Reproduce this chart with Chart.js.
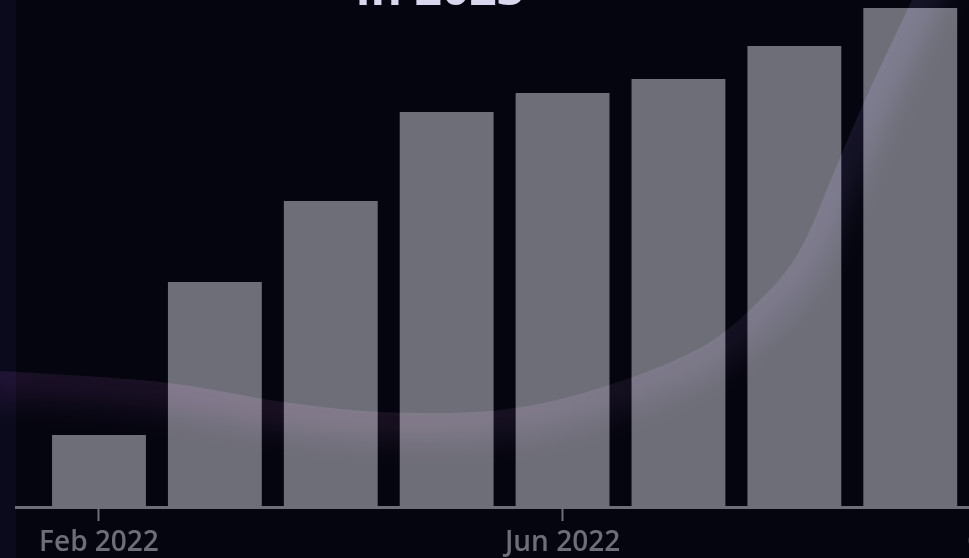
<!DOCTYPE html>
<html>
<head>
<meta charset="utf-8">
<script src="https://cdn.jsdelivr.net/npm/chart.js@4"></script>
<style>
  html, body { margin: 0; padding: 0; background: #05050f; overflow: hidden; width: 969px; height: 558px; }
  #wrap { position: absolute; left: 0; top: 0; width: 1200px; height: 558px; }
  canvas { display: block; }
</style>
</head>
<body>
<div id="wrap"><canvas id="c" width="1200" height="558"></canvas></div>
<script>
// ---- data ----
const months = ['Feb 2022', 'Mar 2022', 'Apr 2022', 'May 2022', 'Jun 2022', 'Jul 2022', 'Aug 2022', 'Sep 2022'];
const values = [14.4, 45.0, 61.2, 79.0, 82.8, 85.6, 92.2, 99.8];
const tickLabels = ['Feb 2022', 'Jun 2022', 'Oct 2022'];
const titleText = 'in 2023';

// ---- helpers ----
const MONTHS = ['Jan','Feb','Mar','Apr','May','Jun','Jul','Aug','Sep','Oct','Nov','Dec'];
function monthIndex(label) {
  const [m, y] = label.split(' ');
  return (parseInt(y, 10) * 12 + MONTHS.indexOf(m));
}
const base = monthIndex(months[0]);
const points = months.map((m, i) => ({ x: monthIndex(m) - base, y: values[i] }));
const tickVals = tickLabels.map(l => monthIndex(l) - base);
const labelByVal = {};
tickLabels.forEach((l, i) => { labelByVal[tickVals[i]] = l; });

const GRAY = '#6e6e78';
const FONT = "'Open Sans', 'Noto Sans', sans-serif";

const bgPlugin = {
  id: 'bg',
  beforeDraw(chart) {
    const ctx = chart.ctx;
    ctx.save();
    ctx.fillStyle = '#05050f';
    ctx.fillRect(0, 0, chart.width, chart.height);
    ctx.fillStyle = '#0b0a1c';
    ctx.fillRect(0, 0, 16, chart.height);
    ctx.restore();
  }
};

// decorative glow curve (not data)
const curvePts = [[-20,370],[0,371],[160,382],[283,402],[383,412],[500,410],[600,388],[700,348],[760,300],[800,250],[835,170],[865,100],[912,0],[935,-50]];
function curvePath(ctx) {
  const p = curvePts;
  ctx.moveTo(p[0][0], p[0][1]);
  for (let i = 0; i < p.length - 1; i++) {
    const p0 = p[Math.max(i - 1, 0)], p1 = p[i], p2 = p[i + 1], p3 = p[Math.min(i + 2, p.length - 1)];
    const c1x = p1[0] + (p2[0] - p0[0]) / 6, c1y = p1[1] + (p2[1] - p0[1]) / 6;
    const c2x = p2[0] - (p3[0] - p1[0]) / 6, c2y = p2[1] - (p3[1] - p1[1]) / 6;
    ctx.bezierCurveTo(c1x, c1y, c2x, c2y, p2[0], p2[1]);
  }
}
const glowPlugin = {
  id: 'glow',
  afterDatasetsDraw(chart) {
    const ctx = chart.ctx;
    ctx.save();
    ctx.beginPath();
    curvePath(ctx);
    ctx.lineTo(1300, -50);
    ctx.lineTo(1300, 700);
    ctx.lineTo(-20, 700);
    ctx.closePath();
    ctx.clip();
    ctx.globalCompositeOperation = 'lighter';
    const g = ctx.createLinearGradient(0, 0, 950, 0);
    g.addColorStop(0, 'rgba(150,70,170,0.14)');
    g.addColorStop(0.45, 'rgba(180,110,160,0.11)');
    g.addColorStop(0.75, 'rgba(160,120,200,0.09)');
    g.addColorStop(1, 'rgba(140,140,220,0.12)');
    ctx.filter = 'blur(14px)';
    ctx.lineWidth = 54;
    ctx.strokeStyle = g;
    ctx.beginPath();
    curvePath(ctx);
    ctx.stroke();
    ctx.restore();
  }
};

const titlePlugin = {
  id: 'ttl',
  afterDraw(chart) {
    const ctx = chart.ctx;
    ctx.save();
    ctx.font = "700 48px " + FONT;
    ctx.fillStyle = '#d9d7ee';
    ctx.textAlign = 'center';
    ctx.textBaseline = 'alphabetic';
    ctx.fillText(titleText, 440, 5);
    ctx.restore();
  }
};

new Chart(document.getElementById('c'), {
  type: 'bar',
  data: {
    datasets: [{
      data: points,
      backgroundColor: GRAY,
      borderWidth: 0,
      categoryPercentage: 0.9,
      barPercentage: 0.9
    }]
  },
  options: {
    responsive: false,
    devicePixelRatio: 1,
    animation: false,
    layout: { padding: { left: 16, right: 0, top: 0, bottom: 0 } },
    plugins: { legend: { display: false }, tooltip: { enabled: false }, title: { display: false } },
    scales: {
      x: {
        type: 'linear',
        offset: false,
        min: -0.716,
        max: 9.5,
        afterFit(scale) { scale.height = 51; },
        afterBuildTicks(scale) { scale.ticks = tickVals.map(v => ({ value: v })); },
        border: { display: true, color: GRAY, width: 3 },
        grid: { display: true, offset: false, drawOnChartArea: false, drawTicks: true, tickLength: 14, tickWidth: 2, tickColor: GRAY },
        ticks: {
          color: GRAY,
          font: { family: FONT, size: 28, weight: '600' },
          padding: 5,
          maxRotation: 0,
          autoSkip: false,
          callback: (v) => labelByVal[v] || ''
        }
      },
      y: {
        display: false,
        min: 0,
        max: 101.4
      }
    }
  },
  plugins: [bgPlugin, glowPlugin, titlePlugin]
});
</script>
</body>
</html>
